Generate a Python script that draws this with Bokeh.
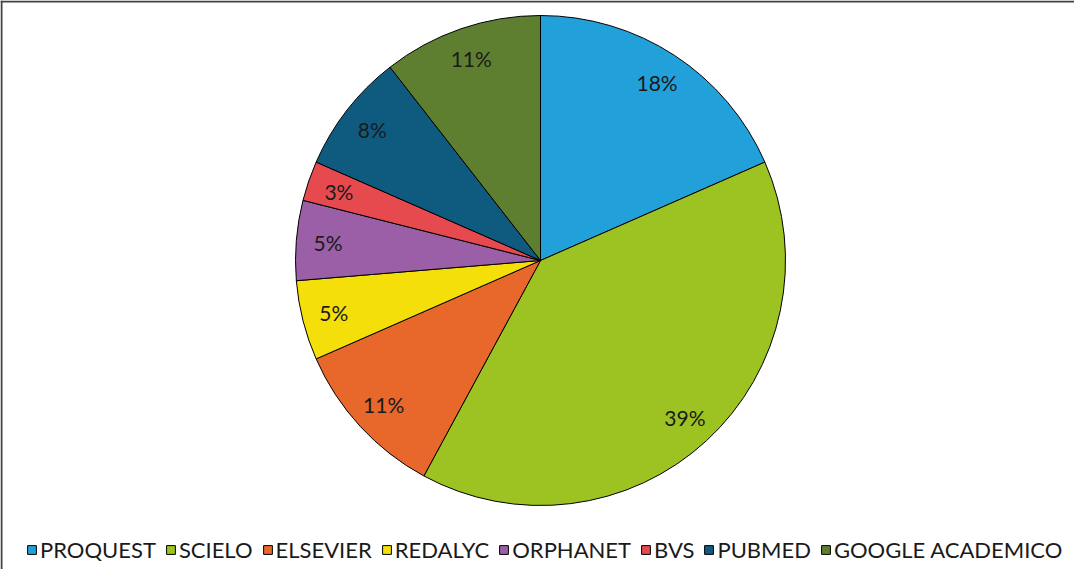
import math
from bokeh.plotting import figure
from bokeh.models import ColumnDataSource, Legend, LegendItem, Span
from bokeh.core.properties import value
from bokeh.embed import file_html
from bokeh.resources import INLINE

categories = ["PROQUEST", "SCIELO", "ELSEVIER", "REDALYC", "ORPHANET", "BVS", "PUBMED", "GOOGLE ACADEMICO"]
counts = [7, 15, 4, 2, 2, 1, 3, 4]
colors = ["#22a0da", "#9cc321", "#e8672a", "#f4df0a", "#9a5fa6", "#e64a4f", "#0f5b80", "#5e7f2f"]

W, H = 1074, 569
cx, cy, R = 540, 309, 245

total = sum(counts)
starts, ends, pct, lx, ly = [], [], [], [], []
acc = 0.0
for c in counts:
    a0 = math.pi / 2 - 2 * math.pi * acc / total
    acc += c
    a1 = math.pi / 2 - 2 * math.pi * acc / total
    starts.append(a1)
    ends.append(a0)
    mid = (a0 + a1) / 2
    lx.append(cx + 0.87 * R * math.cos(mid))
    ly.append(cy + 0.87 * R * math.sin(mid))
    pct.append(f"{round(100 * c / total)}%")

src = ColumnDataSource(dict(cat=categories, start=starts, end=ends, color=colors,
                            pct=pct, lx=lx, ly=ly))

p = figure(width=W, height=H, x_range=(0, W), y_range=(0, H),
           output_backend="svg", toolbar_location=None, min_border=0)
p.axis.visible = False
p.grid.visible = False
p.outline_line_color = None
p.background_fill_color = "white"
p.border_fill_color = "white"
p.add_layout(Span(location=1, dimension="height", line_color="#404040", line_width=2))
p.add_layout(Span(location=H - 1, dimension="width", line_color="#404040", line_width=2))

renderers = []
for i in range(len(categories)):
    r = p.wedge(x=cx, y=cy, radius=R, start_angle=starts[i], end_angle=ends[i],
                fill_color=colors[i], line_color="black", line_width=1)
    renderers.append(r)

p.text(x="lx", y="ly", text="pct", source=src, text_align="center", text_baseline="middle",
       text_font=value("Lato"), text_font_size="21px", text_color="#1a1a1a")

items = [LegendItem(label=categories[i], renderers=[renderers[i]]) for i in range(len(categories))]
legend = Legend(items=items, orientation="horizontal", location=(24, 4),
                glyph_width=11, glyph_height=11, label_text_font="Lato",
                label_text_font_size="22px", label_text_color="#1a1a1a",
                spacing=9, label_standoff=3, padding=2, margin=0,
                border_line_alpha=0, background_fill_alpha=0)
p.add_layout(legend, "center")

open("out.html", "w").write(file_html(p, INLINE))
